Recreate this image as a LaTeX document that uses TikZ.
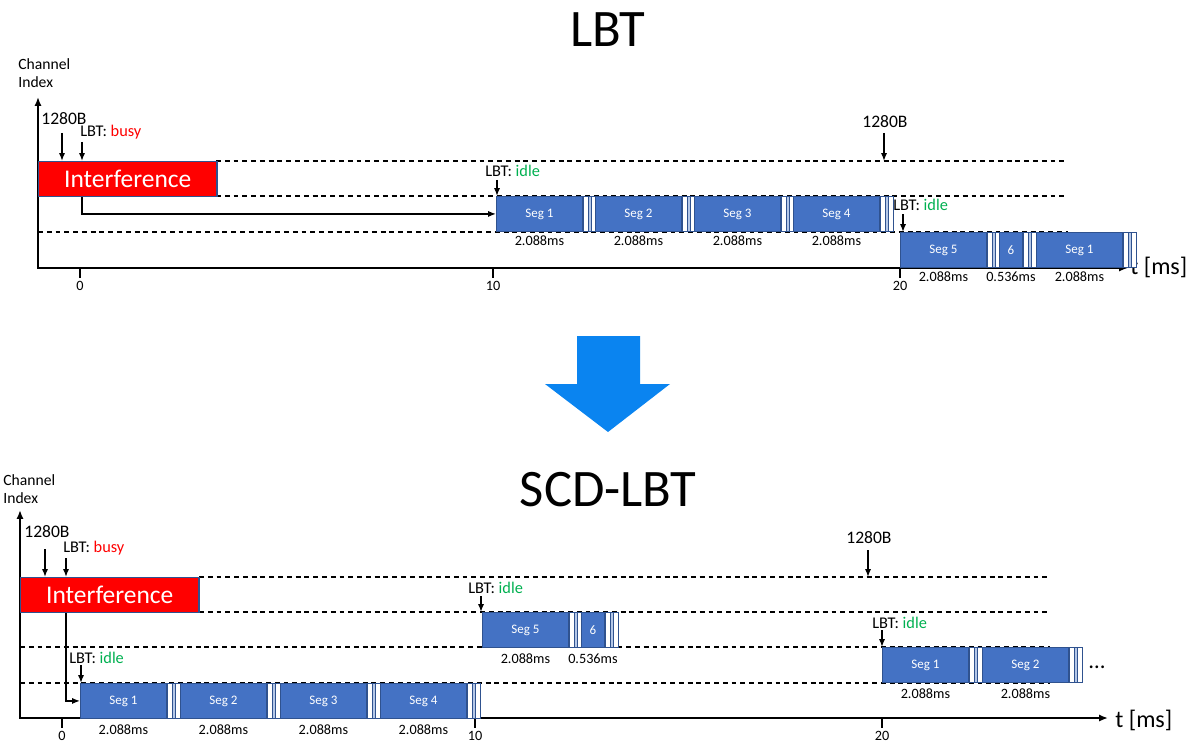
\documentclass[tikz,border=0pt]{standalone}
\usepackage{fontspec}
\setmainfont{Carlito}
\usetikzlibrary{positioning,arrows.meta}

\definecolor{segfill}{HTML}{4472C4}
\definecolor{segedge}{HTML}{2F528F}
\definecolor{segpale}{HTML}{B4C7E7}
\definecolor{idlegreen}{HTML}{00B050}
\definecolor{busyred}{HTML}{FF0000}
\definecolor{downblue}{HTML}{0A84F0}

\tikzset{
  seg/.style={draw=segedge, line width=0.5pt, fill=segfill, text=white, font=\fontsize{7.4}{9}\selectfont, minimum width=1.72cm, minimum height=0.7cm, inner sep=0pt, anchor=north west},
  shortseg/.style={seg, minimum width=0.46cm},
  interf/.style={draw=segedge, line width=0.6pt, fill=busyred, text=white, font=\fontsize{14.5}{17}\selectfont, minimum width=3.57cm, minimum height=0.7cm, inner sep=0pt, anchor=north west},
  dur/.style={font=\fontsize{8.1}{10}\selectfont, inner sep=0pt},
  lbl/.style={font=\fontsize{9.3}{11}\selectfont, inner sep=0pt, anchor=base west},
  bytes/.style={font=\fontsize{10}{12}\selectfont, inner sep=0pt, anchor=base west},
  chan/.style={font=\fontsize{8.9}{11}\selectfont, inner sep=0pt, anchor=base west},
  ticklbl/.style={font=\fontsize{8.1}{10}\selectfont, inner sep=0pt, anchor=north},
  unit/.style={font=\fontsize{13.7}{16}\selectfont, inner sep=0pt, anchor=west},
  title/.style={font=\fontsize{30}{36}\selectfont, inner sep=0pt},
  axis/.style={line width=1.2pt, {Latex[length=5pt,width=4pt]}-{Latex[length=5pt,width=4pt]}},
  arr/.style={line width=0.8pt, -{Latex[length=4.5pt,width=3.5pt]}},
  lane/.style={line width=0.6pt, dash pattern=on 2.8pt off 2.2pt},
}

% white/pale bars after a segment
\newcommand{\segbreak}[1]{%
  \draw[segedge, line width=0.4pt, fill=white] (#1.north east) rectangle ++(5,35);
  \draw[segedge, line width=0.4pt, fill=segpale] (#1.north east) ++(5,0) rectangle ++(3,35);
  \draw[segedge, line width=0.4pt, fill=white] (#1.north east) ++(8,0) rectangle ++(5,35);
}

\begin{document}
\begin{tikzpicture}[x=0.02cm, y=-0.02cm]
\useasboundingbox (0,0) rectangle (1202,743);

%titles and the big arrow
\node[title] (ttlA) at (608,30) {LBT};
\node[title] (ttlB) at (608,490) {SCD-LBT};
\fill[downblue] (577,336) -- (640,336) -- (640,384) -- (670,384) -- (608,432) -- (545,384) -- (577,384) -- cycle;

%upper picture: LBT
\node[chan] (chA1) at (18,70) {Channel};
\node[chan] (chA2) at (18,88) {Index};
\coordinate (lnA1) at (1068,161);
\foreach \y/\x in {161/216,196/216,232/38} \draw[lane] (\x,\y) -- (1068,\y);
\node[unit] (tA) at (1130,267) {t [ms]};
\draw[axis] (38,97) -- (38,268) -- (1128,268);
\foreach \t/\x in {0/80,10/493,20/900} {
  \draw[line width=0.8pt] (\x,268) -- (\x,278);
  \node[ticklbl] (tkA\t) at (\x,281) {\t};
}
\node[interf] (intfA) at (38,161) {Interference};
\node[bytes] (byA1) at (41,125) {1280B};
\node[lbl] (bzA) at (80,137) {LBT: \textcolor{busyred}{busy}};
\coordinate (pA1) at (62,133);
\coordinate (pA2) at (82,142);
\draw[arr] (pA1) -- (pA1 |- intfA.north);
\draw[arr] (pA2) -- (pA2 |- intfA.north);

\foreach \i/\x in {1/496,2/595,3/694,4/793} {
  \node[seg] (a\i) at (\x,196) {Seg \i};
  \segbreak{a\i}
  \node[dur, below=2pt of a\i] (da\i) {2.088ms};
}
\draw[arr] (pA2 |- intfA.south) |- (a1.west);
\node[lbl] (idA1) at (485,176) {LBT: \textcolor{idlegreen}{idle}};
\coordinate (pA3) at (497,180);
\draw[arr] (pA3) -- (pA3 |- a1.north);

\node[seg] (c5) at (900,232) {Seg 5};
\segbreak{c5}
\node[shortseg] (c6) at (999,232) {6};
\segbreak{c6}
\node[seg] (c7) at (1036,232) {Seg 1};
\segbreak{c7}
\node[dur, below=2pt of c5] (dc5) {2.088ms};
\node[dur, below=2pt of c6] (dc6) {0.536ms};
\node[dur, below=2pt of c7] (dc7) {2.088ms};
\node[lbl] (idA2) at (893,211) {LBT: \textcolor{idlegreen}{idle}};
\coordinate (pA4) at (903,214);
\draw[arr] (pA4) -- (pA4 |- c5.north);

\node[bytes] (byA2) at (862,128) {1280B};
\coordinate (pA5) at (884,133);
\draw[arr] (pA5) -- (pA5 |- lnA1);

%lower picture: SCD-LBT
\node[chan] (chB1) at (3,485) {Channel};
\node[chan] (chB2) at (3,503) {Index};
\coordinate (lnB1) at (1050,577);
\foreach \y/\x in {577/199,612/199,647/20,683/20} \draw[lane] (\x,\y) -- (1050,\y);
\node[unit] (tB) at (1115,720) {t [ms]};
\draw[axis] (20,510) -- (20,718) -- (1108,718);
\foreach \t/\x in {0/62,10/475,20/882} {
  \draw[line width=0.8pt] (\x,718) -- (\x,728);
  \node[ticklbl] (tkB\t) at (\x,731) {\t};
}
\node[interf] (intfB) at (20,577) {Interference};
\node[bytes] (byB1) at (24,537) {1280B};
\node[lbl] (bzB) at (63,552) {LBT: \textcolor{busyred}{busy}};
\coordinate (pB1) at (45,549);
\coordinate (pB2) at (66,558);
\draw[arr] (pB1) -- (pB1 |- intfB.north);
\draw[arr] (pB2) -- (pB2 |- intfB.north);

\foreach \i/\x in {1/80,2/180,3/280,4/380} {
  \node[seg] (e\i) at (\x,683) {Seg \i};
  \segbreak{e\i}
  \node[dur, below=3pt of e\i] (de\i) {2.088ms};
}
\draw[arr] (pB2 |- intfB.south) |- (e1.west);
\node[lbl] (idB1) at (69,663) {LBT: \textcolor{idlegreen}{idle}};
\coordinate (pB3) at (81,665);
\draw[arr] (pB3) -- (pB3 |- e1.north);

\node[seg] (f5) at (482,612) {Seg 5};
\segbreak{f5}
\node[shortseg] (f6) at (581,612) {6};
\segbreak{f6}
\node[dur, below=3pt of f5] (df5) {2.088ms};
\node[dur, below=3pt of f6] (df6) {0.536ms};
\node[lbl] (idB2) at (468,593) {LBT: \textcolor{idlegreen}{idle}};
\coordinate (pB4) at (481,596);
\draw[arr] (pB4) -- (pB4 |- f5.north);

\node[seg] (g1) at (882,647) {Seg 1};
\segbreak{g1}
\node[seg] (g2) at (982,647) {Seg 2};
\segbreak{g2}
\node[dur, below=3pt of g1] (dg1) {2.088ms};
\node[dur, below=3pt of g2] (dg2) {2.088ms};
\node[font=\fontsize{13}{15}\selectfont, inner sep=0pt] (dotsB) at (1097,667) {\dots};
\node[lbl] (idB3) at (872,628) {LBT: \textcolor{idlegreen}{idle}};
\coordinate (pB5) at (882,630);
\draw[arr] (pB5) -- (pB5 |- g1.north);

\node[bytes] (byB2) at (846,543) {1280B};
\coordinate (pB6) at (868,550);
\draw[arr] (pB6) -- (pB6 |- lnB1);

\end{tikzpicture}
\end{document}
